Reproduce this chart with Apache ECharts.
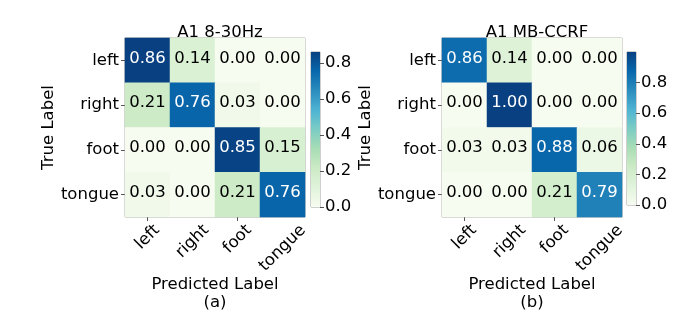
<!DOCTYPE html>
<html>
<head>
<meta charset="utf-8">
<script src="https://cdn.jsdelivr.net/npm/echarts@6/dist/echarts.min.js"></script>
<style>
  html, body { margin: 0; padding: 0; background: #fff; }
  #main { width: 692px; height: 327px; }
</style>
</head>
<body>
<div id="main"></div>
<script>
// class names (rows = true label, columns = predicted label)
var classes = ['left', 'right', 'foot', 'tongue'];

// confusion matrices, row by row
var cmA = [
  [0.86, 0.14, 0.00, 0.00],
  [0.21, 0.76, 0.03, 0.00],
  [0.00, 0.00, 0.85, 0.15],
  [0.03, 0.00, 0.21, 0.76]
];
var cmB = [
  [0.86, 0.14, 0.00, 0.00],
  [0.00, 1.00, 0.00, 0.00],
  [0.03, 0.03, 0.88, 0.06],
  [0.00, 0.00, 0.21, 0.79]
];
var titles = ['A1 8-30Hz', 'A1 MB-CCRF'];
var captions = ['(a)', '(b)'];
var vmaxes = [0.86, 1.0];

// GnBu colormap, low -> high
var gnbu = ['#f7fcf0', '#e0f3db', '#ccebc5', '#a8ddb5', '#7bccc4', '#4eb3d3', '#2b8cbe', '#0868ac', '#084081'];

var font = 'DejaVu Sans';
var fs = 16.5;

// rotated x labels are centred under the tick (matplotlib style):
// distance from axis to label centre depends on its width
var ctx = document.createElement('canvas').getContext('2d');
ctx.font = fs + 'px "' + font + '"';
function labelMargin(c) {
    var w = ctx.measureText(c).width;
    return 4 + (w + fs * 1.15) * 0.3536;
}

function cells(cm, vmax) {
    var out = [];
    cm.forEach(function (row, i) {
        row.forEach(function (v, j) {
            out.push({
                value: [j, i, v],
                label: { color: v > vmax / 2 ? '#fff' : '#000' }
            });
        });
    });
    return out;
}

var myChart = echarts.init(document.getElementById('main'));

var panels = [
    { cm: cmA, left: 125, barLeft: 311, barH: 155 },
    { cm: cmB, left: 442, barLeft: 627, barH: 153 }
];

var grid = [], xAxis = [], yAxis = [], series = [], visualMap = [], title = [];

panels.forEach(function (p, k) {
    var vmax = vmaxes[k];
    var gMap = grid.length;
    grid.push({ left: p.left, top: 38, width: 180, height: 179, show: true, outerBoundsMode: 'none',
        borderColor: '#a0a0a0', borderWidth: 1, backgroundColor: 'transparent' });
    var gBar = grid.length;
    grid.push({ left: p.barLeft, top: 52, width: 9, height: p.barH, show: true, outerBoundsMode: 'none',
        borderColor: '#a0a0a0', borderWidth: 1, backgroundColor: 'transparent' });

    // main x axis: ticks + name
    var xMain = xAxis.length;
    xAxis.push({
        type: 'category', gridIndex: gMap, data: classes, position: 'bottom',
        name: 'Predicted Label\n' + captions[k], nameLocation: 'middle', nameGap: 59,
        nameTextStyle: { fontFamily: font, fontSize: fs, color: '#000', lineHeight: 18 },
        axisLine: { show: false },
        axisTick: { show: true, alignWithLabel: true, length: 4, lineStyle: { color: '#555' } },
        axisLabel: { show: false }
    });
    // one label-only axis per class so each rotated label can sit at its own distance
    classes.forEach(function (c, j) {
        xAxis.push({
            type: 'category', gridIndex: gMap, data: classes, position: 'bottom',
            axisLine: { show: false }, axisTick: { show: false },
            axisLabel: {
                rotate: 45, align: 'center', verticalAlign: 'middle', interval: 0,
                fontFamily: font, fontSize: fs, color: '#000', margin: labelMargin(c),
                formatter: function (v, idx) { return idx === j ? v : ''; }
            }
        });
    });

    var yMain = yAxis.length;
    yAxis.push({
        type: 'category', gridIndex: gMap, data: classes, inverse: true, position: 'left',
        name: 'True Label', nameLocation: 'middle', nameGap: 60,
        nameTextStyle: { fontFamily: font, fontSize: fs, color: '#000' },
        axisLine: { show: false },
        axisTick: { show: true, alignWithLabel: true, length: 4, lineStyle: { color: '#555' } },
        axisLabel: { fontFamily: font, fontSize: fs, color: '#000', margin: 6, interval: 0 }
    });

    // colorbar axes
    var xBar = xAxis.length;
    xAxis.push({ type: 'category', gridIndex: gBar, data: [''], show: false });
    var yBar = yAxis.length;
    yAxis.push({
        type: 'value', gridIndex: gBar, min: 0, max: vmax, interval: 0.2,
        position: 'right',
        axisLine: { show: false }, splitLine: { show: false },
        axisTick: { show: true, length: 4, lineStyle: { color: '#555' } },
        axisLabel: {
            fontFamily: font, fontSize: fs, color: '#000', margin: 5,
            showMaxLabel: false,
            formatter: function (v) { return v.toFixed(1); }
        }
    });

    visualMap.push({
        type: 'continuous', show: false, seriesIndex: series.length,
        dimension: 2, min: 0, max: vmax, inRange: { color: gnbu }
    });
    series.push({
        type: 'heatmap', xAxisIndex: xMain, yAxisIndex: yMain,
        data: cells(p.cm, vmax),
        label: {
            show: true, fontFamily: font, fontSize: fs, offset: [0, -2],
            formatter: function (d) { return d.value[2].toFixed(2); }
        },
        itemStyle: { borderWidth: 0 },
        emphasis: { disabled: true }
    });
    series.push({
        type: 'bar', xAxisIndex: xBar, yAxisIndex: yBar,
        data: [vmax], barWidth: '100%', silent: true,
        itemStyle: {
            color: new echarts.graphic.LinearGradient(0, 0, 0, 1,
                gnbu.slice().reverse().map(function (c, i) {
                    return { offset: i / (gnbu.length - 1), color: c };
                }))
        }
    });

    title.push({
        text: titles[k], left: p.left + 90, top: 19, textAlign: 'center',
        textStyle: { fontFamily: font, fontSize: fs, fontWeight: 'normal', color: '#000' }
    });
});

myChart.setOption({
    animation: false,
    backgroundColor: '#fff',
    title: title,
    grid: grid,
    xAxis: xAxis,
    yAxis: yAxis,
    visualMap: visualMap,
    series: series
});
</script>
</body>
</html>
